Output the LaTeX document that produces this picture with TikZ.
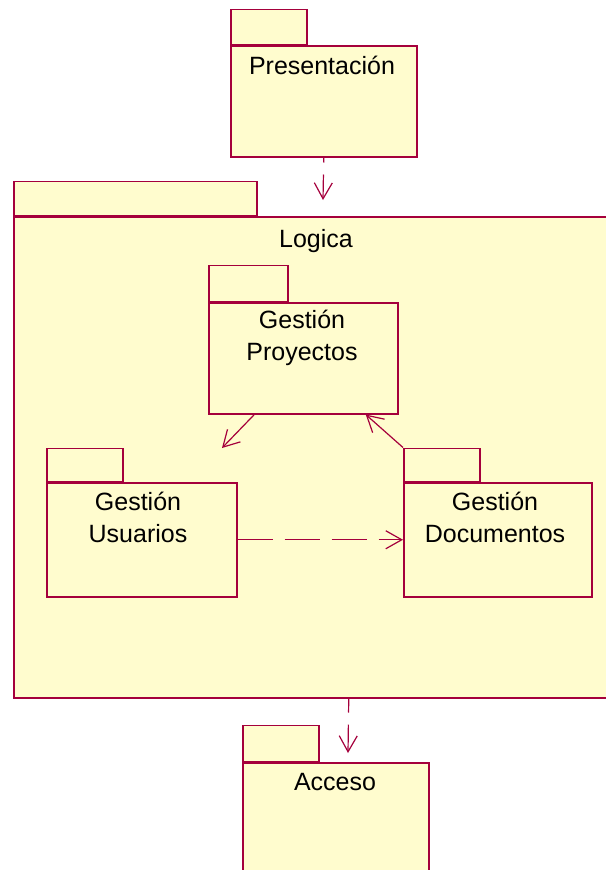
\documentclass[tikz,border=0pt]{standalone}
\usepackage{fontspec}
\setmainfont{Liberation Sans}
\usetikzlibrary{arrows.meta}

\definecolor{pkgfill}{RGB}{255,252,206}
\definecolor{pkgline}{RGB}{165,0,60}

\begin{document}
\begin{tikzpicture}[x=1pt, y=-1pt,
    pkg/.style={draw=pkgline, fill=pkgfill, line width=1.5pt, inner sep=0pt, anchor=north west},
    pkgtab/.style={draw=pkgline, fill=pkgfill, line width=1.5pt, inner sep=0pt, anchor=south west},
    pkgname/.style={font=\fontsize{25}{32}\selectfont, align=center, anchor=base, inner sep=0pt},
    dep/.style={draw=pkgline, line width=1.2pt, -{Straight Barb[length=16pt, width=18pt]}},
    usedep/.style={dep, dash pattern=on 35pt off 12pt}]

        \useasboundingbox (0,0) rectangle (605,870);

        % Packages
        \node[pkg, minimum width=186pt, minimum height=111pt] (pres) at (230,45) {};
        \node[pkgtab, minimum width=76pt, minimum height=35pt] (prestab) at (pres.north west) {};
        \node[pkgname] (presname) at (322,74) {Presentación};

        \node[pkg, minimum width=670pt, minimum height=481pt] (logica) at (13,216) {};
        \node[pkgtab, minimum width=243pt, minimum height=34pt] (logicatab) at (logica.north west) {};
        \node[pkgname] (logicaname) at (316,247) {Logica};

        \node[pkg, minimum width=189pt, minimum height=111pt] (proy) at (208,302) {};
        \node[pkgtab, minimum width=79pt, minimum height=36pt] (proytab) at (proy.north west) {};
        \node[pkgname] (proyname) at (302,360) {Gestión\\Proyectos};

        \node[pkg, minimum width=190pt, minimum height=114pt] (usu) at (46,482) {};
        \node[pkgtab, minimum width=76pt, minimum height=33pt] (usutab) at (usu.north west) {};
        \node[pkgname] (usuname) at (138,542) {Gestión\\Usuarios};

        \node[pkg, minimum width=188pt, minimum height=114pt] (doc) at (403,482) {};
        \node[pkgtab, minimum width=76pt, minimum height=33pt] (doctab) at (doc.north west) {};
        \node[pkgname] (docname) at (495,542) {Gestión\\Documentos};

        \node[pkg, minimum width=186pt, minimum height=150pt] (acc) at (242,762) {};
        \node[pkgtab, minimum width=76pt, minimum height=36pt] (acctab) at (acc.north west) {};
        \node[pkgname] (accname) at (335,790) {Acceso};

        % Dependencies
        \coordinate (presTip) at (323,200);
        \coordinate (usuTip) at (222,448);
        \coordinate (accTip) at (348,753);

        \draw[usedep, dash phase=30pt] (pres.south) -- (presTip);
        \draw[dep] (proy.229) -- (usuTip);
        \draw[dep] (doctab.north west) -- (proy.318);
        \draw[usedep] (usu.east) -- (doc.west);
        \draw[usedep, dash phase=21pt] (logica.south) -- (accTip);

    \end{tikzpicture}
\end{document}
